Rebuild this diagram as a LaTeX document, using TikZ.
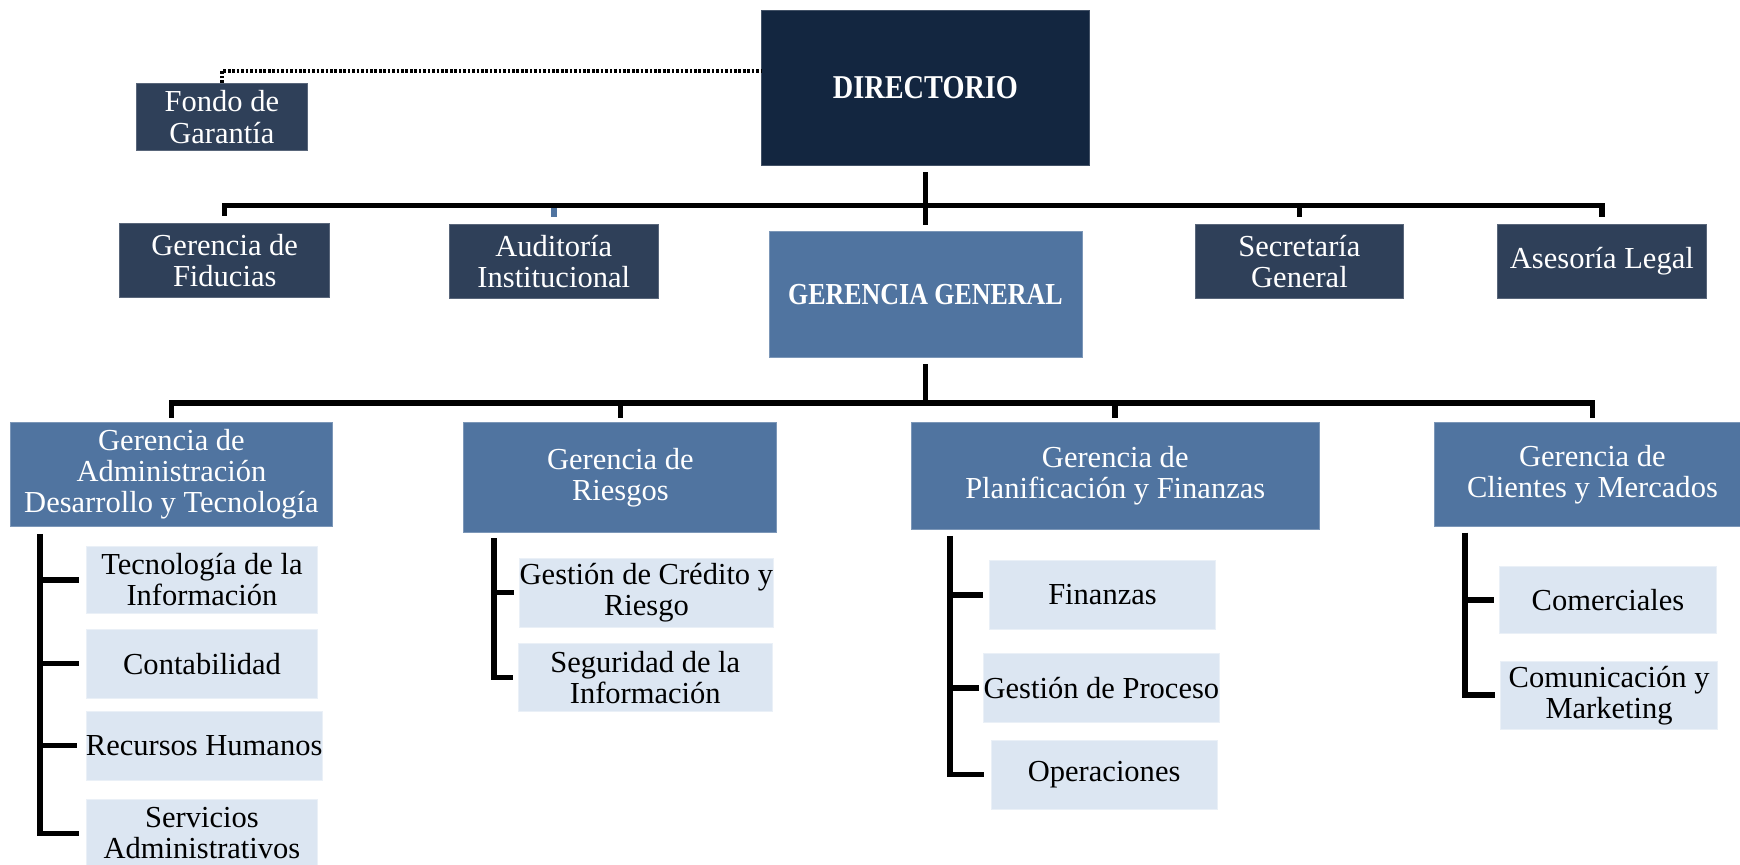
\documentclass[tikz,border=0pt]{standalone}
\usepackage{fontspec}
\setmainfont{Liberation Serif}
\newfontfamily\hdfont[FakeStretch=0.85]{Liberation Serif}
\definecolor{dirc}{RGB}{19,38,64}
\definecolor{darkc}{RGB}{47,64,89}
\definecolor{steelc}{RGB}{80,116,160}
\definecolor{lightc}{RGB}{220,230,242}
\tikzset{
  box/.style={rectangle, inner sep=0pt, align=center, font=\fontsize{27.5}{28}\selectfont},
  dirbox/.style={box, fill=dirc, draw=dirc!80!white, line width=0.8pt, text=white},
  darkbox/.style={box, fill=darkc, draw=darkc!80!white, line width=0.8pt, text=white},
  steelbox/.style={box, fill=steelc, draw=steelc!75!white, line width=0.8pt, text=white},
  lightbox/.style={box, fill=lightc, draw=lightc!60!white, line width=0.8pt, text=black},
  conn/.style={line width=5pt, black},
  bluetick/.style={line width=5pt, steelc},
  dotline/.style={line width=3.5pt, black, dash pattern=on 2.4pt off 1.6pt}
}
\begin{document}
\begin{tikzpicture}[x=1pt,y=-1pt]
\useasboundingbox (0,0) rectangle (1568,779);
% top level
\node[dirbox, minimum width=296pt, minimum height=140pt] (dir) at (834,79)
  {\hdfont\bfseries\fontsize{30}{31}\selectfont DIRECTORIO};
\node[darkbox, minimum width=154pt, minimum height=61pt] (fg) at (200,105.5) {Fondo de\\Garantía};
% second row
\node[darkbox, minimum width=189pt, minimum height=67pt] (fid) at (202.5,234.5) {Gerencia de\\Fiducias};
\node[darkbox, minimum width=188pt, minimum height=67pt] (aud) at (499,235.5) {Auditoría\\Institucional};
\node[darkbox, minimum width=188pt, minimum height=67pt] (sec) at (1171,235.5) {Secretaría\\General};
\node[darkbox, minimum width=189pt, minimum height=67pt] (asl) at (1443.5,235.5) {Asesoría Legal};
\node[steelbox, minimum width=282pt, minimum height=113pt] (gg) at (834,265.5)
  {\hdfont\bfseries\fontsize{27.5}{28}\selectfont GERENCIA GENERAL};
% third row
\node[steelbox, minimum width=291pt, minimum height=93pt] (gad) at (154.5,427.5) {Gerencia de\\Administración\\Desarrollo y Tecnología};
\node[steelbox, minimum width=282pt, minimum height=99pt] (gri) at (559,430.5) {Gerencia de\\Riesgos};
\node[steelbox, minimum width=368pt, minimum height=96pt] (gpf) at (1005,429) {Gerencia de\\Planificación y Finanzas};
\node[steelbox, minimum width=284pt, minimum height=93pt] (gcm) at (1435,427.5) {Gerencia de\\Clientes y Mercados};
% sub boxes
\node[lightbox, minimum width=208pt, minimum height=61pt] (ti) at (182,522.5) {Tecnología de la\\Información};
\node[lightbox, minimum width=208pt, minimum height=62pt] (con) at (182,598) {Contabilidad};
\node[lightbox, minimum width=208pt, minimum height=62pt] (rh) at (184,672) {Recursos Humanos};
\node[lightbox, minimum width=208pt, minimum height=62pt] (sa) at (182,751) {Servicios\\Administrativos};
\node[lightbox, minimum width=229pt, minimum height=62pt] (gcr) at (582.5,534) {Gestión de Crédito y\\Riesgo};
\node[lightbox, minimum width=229pt, minimum height=61pt] (sdi) at (581.5,610.5) {Seguridad de la\\Información};
\node[lightbox, minimum width=203pt, minimum height=62pt] (fin) at (993.5,536) {Finanzas};
\node[lightbox, minimum width=205pt, minimum height=62pt] (gp) at (992.5,620) {Gestión de Proceso};
\node[lightbox, minimum width=204pt, minimum height=62pt] (op) at (995,698) {Operaciones};
\node[lightbox, minimum width=196pt, minimum height=61pt] (com) at (1449,540.5) {Comerciales};
\node[lightbox, minimum width=196pt, minimum height=61pt] (cm) at (1450,626.5) {Comunicación y\\Marketing};
% dotted link
\coordinate (dl) at (600,64);
\draw[dotline] (fg.north) |- (dir.west |- dl);
% first bus
\coordinate (b1) at (834,185);
\draw[bluetick] (aud.north |- b1) -- ([yshift=6pt]aud.north);
\draw[conn] ([yshift=6pt]fid.north) -- (fid.north |- b1) -- (asl.north |- b1) -- ([yshift=6pt]asl.north);
\draw[conn] (sec.north |- b1) -- ([yshift=6pt]sec.north);
\draw[conn] ([yshift=-6pt]dir.south) -- ([yshift=6pt]gg.north);
% second bus
\coordinate (b2) at (834,363);
\draw[conn] ([yshift=-6pt]gg.south) -- (gg.south |- b2);
\draw[conn] ([yshift=4pt]gad.north) -- (gad.north |- b2) -- (gcm.north |- b2) -- ([yshift=4pt]gcm.north);
\draw[conn] (gri.north |- b2) -- ([yshift=4pt]gri.north);
\draw[conn] (gpf.north |- b2) -- ([yshift=4pt]gpf.north);
% column 1
\coordinate (t1) at (36,481);
\draw[conn] (t1) |- ([xshift=-6pt]sa.west);
\draw[conn] (t1 |- ti.west) -- ([xshift=-6pt]ti.west);
\draw[conn] (t1 |- con.west) -- ([xshift=-6pt]con.west);
\draw[conn] (t1 |- rh.west) -- ([xshift=-8pt]rh.west);
% column 2
\coordinate (t2) at (445,485);
\draw[conn] (t2) |- ([xshift=-4pt]sdi.west);
\draw[conn] (t2 |- gcr.west) -- ([xshift=-4pt]gcr.west);
% column 3
\coordinate (t3) at (856,483);
\draw[conn] (t3) |- ([xshift=-6pt]op.west);
\draw[conn] (t3 |- fin.west) -- ([xshift=-6pt]fin.west);
\draw[conn] (t3 |- gp.west) -- ([xshift=-4pt]gp.west);
% column 4
\coordinate (t4) at (1320,480);
\draw[conn] (t4) |- ([xshift=-4pt]cm.west);
\draw[conn] (t4 |- com.west) -- ([xshift=-4pt]com.west);
\end{tikzpicture}
\end{document}
